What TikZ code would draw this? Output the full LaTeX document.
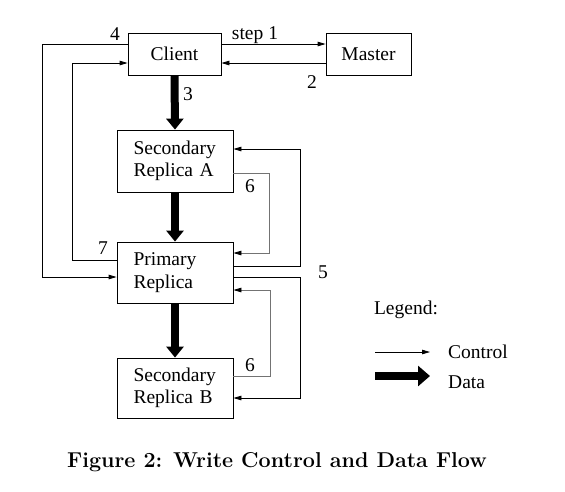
\documentclass[tikz,border=0pt]{standalone}
\usepackage{fontspec}
\newfontfamily\timesfont{Liberation Serif}
\usetikzlibrary{arrows.meta}
\begin{document}
\begin{tikzpicture}[x=1pt,y=-1pt,
   font=\timesfont\fontsize{19.5}{22.5}\selectfont,
   box/.style={draw,line width=0.8pt,inner sep=0pt},
   replica/.style={box,text width=83pt,align=left,minimum width=116pt},
   ctrl/.style={line width=0.8pt,-{Triangle[length=8pt,width=4.5pt]}},
   ctrlgray/.style={ctrl,draw=black!55,-{Triangle[length=8pt,width=4.5pt,black]}},
   data/.style={line width=8pt,-{Triangle[length=11pt,width=17pt]}},
   num/.style={inner sep=0pt}]
   \useasboundingbox (0,0) rectangle (565,491);
   \path (174.5,54) node[box,minimum width=93pt,minimum height=42pt] (Client) {Client};
   \path (368.5,54) node[box,minimum width=85pt,minimum height=42pt] (Master) {Master};
   \path (175,161) node[replica,minimum height=62pt] (SecA) {Secondary\\Replica A};
   \path (175,272.5) node[replica,minimum height=61pt] (Primary) {Primary\\Replica};
   \path (175,388) node[replica,minimum height=60pt] (SecB) {Secondary\\Replica B};
   \draw[ctrl] ([yshift=10pt]Client.east) -- ([yshift=10pt]Master.west);
   \draw[ctrl] ([yshift=-9pt]Master.west) -- ([yshift=-9pt]Client.east);
   \draw[ctrl] ([yshift=10pt]Client.west) -- ++(-85,0) |- ([yshift=-4.5pt]Primary.west);
   \draw[ctrl] ([yshift=12.5pt]Primary.west) -- ++(-44,0) |- ([yshift=-9pt]Client.west);
   \draw[ctrl] ([yshift=6.5pt]Primary.east) -- ++(67,0) |- ([yshift=12pt]SecA.east);
   \draw[ctrlgray] ([yshift=-12pt]SecA.east) -- ++(36,0) |- ([yshift=19.5pt]Primary.east);
   \draw[ctrl] ([yshift=-4.5pt]Primary.east) -- ++(67,0) |- ([yshift=-10pt]SecB.east);
   \draw[ctrlgray] ([yshift=12pt]SecB.east) -- ++(37,0) |- ([yshift=-17.5pt]Primary.east);
   \draw[data] (Client.south) -- (SecA.north);
   \draw[data] (SecA.south) -- (Primary.north);
   \draw[data] (Primary.south) -- (SecB.north);
   \path (255,35) node[num] (step1) {step 1};
   \path (115,34) node[num] (step4) {4};
   \path (312,82) node[num] (step2) {2};
   \path (188,94) node[num] (step3) {3};
   \path (250,186) node[num] (step6a) {6};
   \path (103,248) node[num] (step7) {7};
   \path (323,272) node[num] (step5) {5};
   \path (250,365) node[num] (step6b) {6};
   \path (406,310) node[num] (Legend) {Legend:};
   \coordinate (ctrl0) at (375,352);
   \coordinate (ctrl1) at (430,352);
   \draw[ctrl] (ctrl0) -- (ctrl1);
   \path (448,352) node[num,anchor=west] (Control) {Control};
   \coordinate (data0) at (375,376);
   \coordinate (data1) at (430,376);
   \draw[data,-{Triangle[length=12pt,width=20pt]}] (data0) -- (data1);
   \path (448,382) node[num,anchor=west] (Data) {Data};
   \path (277,462) node[font=\normalfont\fontsize{21.5}{24}\selectfont\bfseries] (Caption) {Figure 2: Write Control and Data Flow};
\end{tikzpicture}
\end{document}
